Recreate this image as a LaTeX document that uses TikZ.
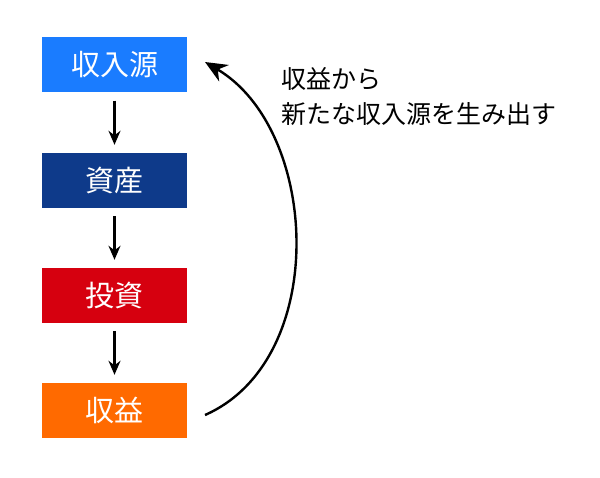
\documentclass[tikz,border=0pt]{standalone}
\usepackage{fontspec}
\newfontfamily\cjk{Noto Sans CJK JP}
\usetikzlibrary{arrows.meta}
\begin{document}
\begin{tikzpicture}[x=1pt,y=-1pt,
 box/.style={minimum width=145pt,minimum height=55pt,inner sep=0,text=white,font=\cjk\fontsize{29}{32}\selectfont},
 arr/.style={-{Stealth[length=14pt,width=12pt]},line width=2.2pt}]
\useasboundingbox (0,0) rectangle (600,478);
\definecolor{c1}{HTML}{1A7CFF}\definecolor{c2}{HTML}{0E3A8A}
\definecolor{c3}{HTML}{D6000F}\definecolor{c4}{HTML}{FF6A00}
\node[box,fill=c1] (a) at (114.5,65) {収入源};
\node[box,fill=c2] (b) at (114.5,180.5) {資産};
\node[box,fill=c3] (c) at (114.5,295.5) {投資};
\node[box,fill=c4] (d) at (114.5,410.5) {収益};
\draw[arr] ([yshift=-8pt]a.south) -- ([yshift=8pt]b.north);
\draw[arr] ([yshift=-8pt]b.south) -- ([yshift=8pt]c.north);
\draw[arr] ([yshift=-8pt]c.south) -- ([yshift=8pt]d.north);
\coordinate (s) at (205,415);
\coordinate (e) at (205,62);
\draw[arr,line width=2.4pt,-{Stealth[length=22pt,width=19pt]}] (s) .. controls (330,360) and (320,130) .. (e);
\node[anchor=west,font=\cjk\fontsize{25}{35}\selectfont,align=left] (t) at (278,97) {収益から\\新たな収入源を生み出す};
\end{tikzpicture}
\end{document}
